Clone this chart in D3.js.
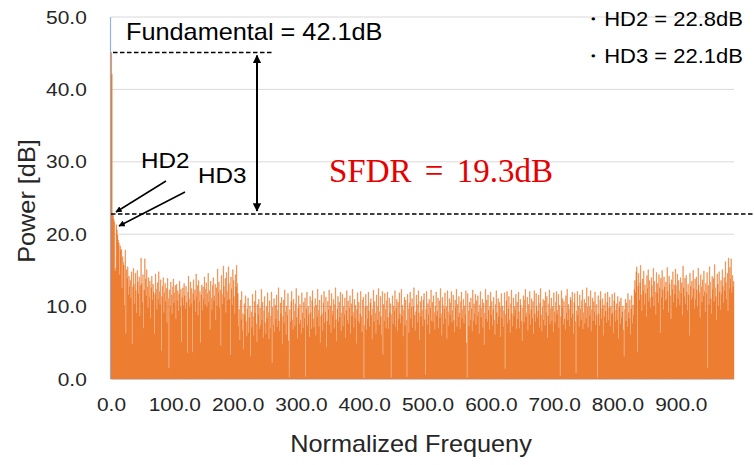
<!DOCTYPE html>
<html lang="en">
<head>
<meta charset="UTF-8">
<title>Spectrum</title>
<script src="https://d3js.org/d3.v7.min.js"></script>
<style>
  body { margin: 0; background: #fff; }
  svg text { font-family: "Liberation Sans", Arial, sans-serif; }
</style>
</head>
<body>
<div id="chart"></div>
<script>
// fundamental + harmonics (first bins)
var headBins = [45.1, 42.1, 22.8, 22.6, 22.1, 21.7, 14.9, 15.3, 21.3, 20.6,
  19.9, 19.2, 18.8, 14.4, 18.4, 17.8, 17.9, 12.6, 16.9, 16.1,
  15.7, 10.2, 17.8, 6.3, 15.1, 13.9, 15.5, 11.6, 14.2, 12.8];

// low band noise, bins 30-199
var lowBand = [13.6, 11.2, 14.8, 4.8, 12.7, 15.3, 13.1, 10.4, 14.6, 12.2, 9.1, 15.0, 13.4, 11.8, 14.1, 8.7, 12.9,
  16.7, 13.2, 10.6, 14.4, 7.0, 12.3, 16.6, 13.8, 11.5, 15.1, 12.7, 9.8, 14.0, 11.3, 13.5, 8.4, 12.6,
  14.2, 10.9, 13.1, 12.0, 6.2, 11.7, 14.5, 12.4, 9.6, 13.3, 11.0, 14.8, 12.1, 10.3, 13.7, 3.9, 11.4,
  12.8, 14.0, 9.2, 11.9, 13.2, 10.7, 12.5, 7.8, 13.9, 11.1, 1.5, 12.3, 10.1, 13.4, 11.6, 9.0, 12.7,
  13.8, 10.5, 11.9, 12.9, 8.3, 13.1, 10.8, 12.2, 9.4, 11.7, 13.5, 10.0, 12.4, 5.1, 11.3, 12.6, 10.2,
  13.2, 11.5, 9.7, 12.8, 10.6, 3.6, 12.0, 14.2, 11.1, 9.9, 13.4, 10.4, 12.5, 3.7, 11.8, 13.7, 10.9,
  12.3, 9.3, 14.5, 11.4, 12.9, 8.8, 13.6, 10.7, 12.1, 5.0, 11.6, 13.0, 9.5, 12.7, 11.0, 14.1, 10.3,
  12.4, 13.3, 9.9, 11.8, 14.6, 10.6, 12.2, 6.8, 13.5, 11.2, 9.6, 12.9, 14.0, 10.8, 11.5, 13.1, 8.1,
  12.6, 10.1, 15.2, 11.9, 13.4, 9.8, 12.3, 4.6, 14.3, 11.7, 10.4, 15.6, 12.8, 11.3, 13.9, 9.2, 14.7,
  12.1, 10.9, 15.5, 13.2, 11.0, 3.3, 14.1, 12.5, 10.2, 15.1, 13.6, 11.4, 9.0, 14.4, 12.7, 15.7, 13.2];

// mid band noise, bins 200-829
var midBand = [11.8, 7.3, 9.6, 5.4, 10.9, 8.2, 12.1, 6.7, 9.0, 4.1, 10.4, 8.8, 11.5, 7.9, 5.9, 9.7, 11.2, 6.4, 8.5, 10.1, 3.2,
  9.3, 7.1, 11.7, 8.6, 6.0, 10.7, 9.1, 12.2, 7.6, 5.1, 10.3, 8.9, 11.0, 6.9, 9.8, 7.4, 12.4, 8.1, 10.6, 5.7, 9.4,
  11.4, 7.8, 6.2, 10.0, 8.4, 11.9, 9.2, 5.5, 10.8, 7.0, 8.7, 12.0, 2.2, 9.9, 7.5, 11.1, 6.5, 10.2, 8.3, 11.6, 7.2,
  9.5, 12.6, 8.0, 6.6, 10.5, 9.0, 11.3, 4.8, 8.6, 10.9, 7.7, 12.3, 9.3, 6.1, 10.1, 8.8, 11.8, 5.3, 0.2, 9.6, 7.9,
  10.7, 12.1, 8.2, 6.8, 11.0, 9.4, 7.3, 10.4, 12.5, 8.5, 5.6, 9.8, 11.5, 7.6, 10.3, 8.1, 6.3, 11.9, 9.1, 7.0, 10.6,
  8.4, 11.2, 0.3, 9.7, 12.0, 7.4, 10.0, 8.9, 5.8, 11.4, 9.2, 6.9, 10.8, 12.2, 8.3, 7.1, 9.9, 11.1, 6.0, 10.2, 8.6,
  12.4, 9.5, 7.2, 10.9, 5.0, 8.7, 11.6, 9.0, 6.7, 10.5, 12.1, 7.8, 9.3, 11.3, 4.4, 8.0, 10.7, 9.6, 12.3, 7.5, 10.1,
  6.4, 11.8, 8.8, 9.4, 11.0, 7.0, 10.3, 12.6, 8.2, 5.2, 9.7, 11.4, 7.9, 10.6, 8.5, 12.0, 6.6, 9.1, 11.7, 7.3, 10.0,
  8.9, 11.2, 5.7, 9.5, 12.2, 8.1, 10.8, 7.6, 9.8, 11.5, 6.2, 10.4, 8.7, 12.4, 9.2, 7.1, 11.0, 8.4, 10.2, 4.9, 9.6,
  11.9, 8.0, 10.6, 7.7, 9.0, 12.1, 8.6, 6.5, 10.9, 11.3, 0.1, 7.4, 9.9, 11.7, 6.8, 10.1, 8.3, 12.0, 9.4, 7.2, 10.5,
  11.1, 8.8, 5.5, 9.7, 12.3, 7.9, 10.7, 9.1, 6.3, 11.6, 8.2, 10.0, 12.5, 7.5, 9.3, 11.4, 8.6, 6.1, 12.1, 3.4, 10.3,
  8.0, 11.8, 9.6, 7.0, 10.8, 12.0, 8.5, 6.9, 11.2, 9.2, 10.4, 0.2, 8.9, 11.5, 7.6, 10.1, 9.4, 12.2, 7.2, 9.8, 11.0,
  6.6, 10.6, 8.3, 11.9, 9.0, 7.7, 12.4, 8.7, 10.2, 5.9, 9.5, 11.3, 7.4, 10.9, 8.1, 0.3, 11.7, 9.7, 6.4, 10.5, 12.0,
  8.4, 9.9, 11.1, 7.1, 10.0, 12.6, 8.8, 6.7, 9.3, 11.6, 10.3, 7.8, 12.2, 9.1, 5.4, 10.7, 8.6, 11.4, 9.5, 7.3, 10.9,
  11.8, 8.2, 0.6, 9.6, 12.1, 7.5, 10.4, 8.9, 11.0, 6.2, 9.8, 12.3, 8.0, 10.6, 7.9, 11.5, 9.2, 6.8, 10.1, 12.0, 8.7,
  9.4, 11.2, 7.0, 10.8, 8.5, 12.5, 9.0, 6.0, 11.3, 10.2, 7.6, 9.7, 11.9, 8.3, 10.0, 5.6, 12.2, 9.3, 7.4, 11.1, 8.8,
  10.5, 12.1, 7.8, 9.5, 11.6, 8.1, 6.5, 10.9, 9.9, 12.4, 7.2, 10.3, 8.6, 11.4, 9.1, 6.9, 10.7, 12.0, 8.4, 9.6, 11.0,
  7.7, 10.1, 8.9, 12.2, 5.0, 0.2, 11.8, 9.4, 7.3, 10.6, 8.2, 11.2, 9.7, 6.6, 12.3, 8.0, 10.4, 9.0, 11.7, 7.5, 10.8,
  8.7, 11.5, 9.3, 6.3, 10.2, 12.1, 8.5, 9.8, 11.0, 7.1, 10.5, 4.7, 9.1, 12.4, 8.3, 10.9, 7.9, 11.6, 9.5, 6.8, 10.0,
  12.0, 8.8, 10.7, 7.4, 9.6, 11.3, 8.1, 6.1, 10.3, 12.2, 9.2, 7.6, 11.1, 8.6, 10.6, 9.9, 5.8, 11.8, 8.4, 10.1, 7.2,
  9.4, 11.9, 1.4, 8.9, 10.8, 12.1, 7.7, 9.7, 11.4, 8.2, 6.4, 10.4, 12.3, 9.0, 7.3, 11.2, 8.7, 10.0, 9.5, 11.7, 6.9,
  10.6, 8.3, 12.0, 9.3, 7.0, 11.0, 10.2, 8.0, 5.3, 9.8, 11.5, 7.8, 10.9, 12.4, 8.6, 9.1, 11.3, 6.7, 10.3, 8.9, 12.1,
  7.5, 9.6, 11.1, 8.4, 10.7, 6.2, 12.2, 9.0, 7.9, 11.8, 10.1, 8.5, 9.4, 11.6, 7.1, 10.5, 12.5, 8.8, 6.6, 9.9, 11.0,
  8.2, 10.8, 7.4, 12.0, 9.2, 11.4, 5.7, 8.7, 10.4, 12.3, 7.6, 9.7, 11.2, 8.0, 10.0, 6.5, 11.9, 9.3, 7.8, 10.6, 12.1,
  8.9, 9.5, 11.7, 7.0, 10.2, 0.4, 8.6, 12.2, 9.8, 11.1, 7.5, 10.7, 8.3, 6.8, 11.5, 9.1, 12.4, 8.1, 10.3, 9.6, 7.3,
  11.3, 10.9, 8.5, 12.0, 9.0, 6.3, 10.6, 11.8, 7.9, 0.8, 9.4, 12.1, 8.8, 10.1, 7.2, 11.6, 9.7, 8.2, 10.8, 12.3, 6.9,
  9.2, 11.0, 7.7, 10.5, 8.4, 12.6, 9.9, 7.1, 11.4, 10.0, 8.7, 12.2, 6.6, 9.6, 11.2, 8.0, 10.7, 9.3, 12.0, 7.5, 10.3,
  8.8, 0.2, 11.5, 9.0, 7.4, 10.9, 12.1, 8.3, 9.7, 11.1, 6.0, 10.2, 8.6, 11.8, 9.4, 7.8, 10.6, 12.0, 8.1, 9.8, 11.3,
  7.3, 10.0, 8.9, 11.7, 9.1, 6.4, 10.8, 11.9, 7.9, 9.5, 10.4, 8.2, 11.4, 5.6, 9.9, 10.7, 7.6, 11.2, 8.5, 9.3, 10.1,
  6.8, 3.1, 9.6, 11.0, 8.0, 10.5, 7.2, 11.8, 9.2, 8.4, 10.9, 6.1, 9.7, 11.5, 7.7, 10.2, 8.8, 12.4, 13.6, 11.9, 14.8];

// high band noise, bins 830-983
var highBand = [15.5, 3.7, 12.8, 14.6, 10.9, 13.3, 15.7, 11.6, 9.4, 13.8, 12.2, 14.9, 10.3, 13.0, 11.8, 8.6, 14.3, 12.5, 15.1, 10.7, 13.6, 11.2,
  9.8, 14.0, 12.9, 11.4, 15.3, 10.1, 13.5, 12.0, 8.9, 14.7, 11.9, 13.2, 10.5, 14.4, 12.6, 6.4, 13.9, 11.3, 15.0, 12.3, 9.6, 14.1,
  12.7, 10.8, 13.4, 11.0, 15.4, 12.1, 9.2, 14.2, 13.1, 11.5, 8.3, 13.7, 12.4, 14.8, 10.6, 13.0, 11.7, 15.2, 12.9, 9.9, 14.5, 11.1,
  13.6, 12.2, 10.2, 14.0, 11.8, 13.3, 8.8, 15.6, 12.6, 11.4, 13.9, 10.4, 14.3, 12.0, 9.5, 13.1, 11.6, 6.0, 14.6, 12.8, 10.9, 13.5,
  11.3, 15.0, 12.5, 9.7, 13.8, 11.0, 14.1, 12.3, 10.0, 15.3, 13.0, 11.9, 8.5, 14.4, 12.7, 10.6, 13.7, 11.5, 14.9, 12.1, 9.3, 13.2,
  11.8, 14.7, 1.5, 12.9, 10.3, 15.5, 13.4, 11.1, 9.0, 14.2, 12.4, 13.9, 10.7, 15.8, 12.6, 11.4, 8.2, 14.5, 13.1, 10.1, 14.8, 12.0,
  9.6, 13.6, 11.7, 15.1, 12.8, 10.5, 14.0, 12.2, 16.2, 13.3, 11.0, 14.6, 9.4, 16.7, 12.5, 15.4, 13.8, 16.6, 11.9, 14.3, 12.7, 13.5];

var power = headBins.concat(lowBand, midBand, highBand);

var yTicks = [0, 10, 20, 30, 40, 50];
var xTicks = [0, 100, 200, 300, 400, 500, 600, 700, 800, 900];
var hd2 = 22.8, hd3 = 22.1, fundamental = 42.1, sfdr = 19.3;

var margin = {top: 17, right: 20, bottom: 86, left: 111},
    width = 754 - margin.left - margin.right,
    height = 465 - margin.top - margin.bottom;
var sx = 1.1; // the reference font runs a bit wider than Arial

var root = d3.select("#chart").append("svg")
    .attr("width", 754)
    .attr("height", 465);

root.append("defs").append("marker")
    .attr("id", "head")
    .attr("viewBox", "0 0 10 10")
    .attr("refX", 9).attr("refY", 5)
    .attr("markerWidth", 4.2).attr("markerHeight", 4.2)
    .attr("markerUnits", "strokeWidth")
    .attr("orient", "auto-start-reverse")
  .append("path")
    .attr("d", "M0,0L10,5L0,10Z")
    .attr("fill", "#000");

var svg = root.append("g")
    .attr("transform", "translate(" + margin.left + "," + margin.top + ")");

var x = d3.scaleBand()
    .domain(d3.range(power.length))
    .range([0, width])
    .padding(0);

var y = d3.scaleLinear()
    .domain([0, 50])
    .range([height, 0]);

// gridlines
svg.append("g")
  .selectAll("line")
  .data(yTicks.slice(1))
  .join("line")
    .attr("x1", 0).attr("x2", width)
    .attr("y1", function(d) { return y(d); })
    .attr("y2", function(d) { return y(d); })
    .attr("stroke", "#d9d9d9")
    .attr("stroke-width", 1);

// axis lines sit under the bars
svg.append("line")
    .attr("x1", -0.5).attr("x2", -0.5).attr("y1", 0).attr("y2", height)
    .attr("stroke", "#8fb4de").attr("stroke-width", 1.2);
svg.append("line")
    .attr("x1", 0).attr("x2", width).attr("y1", height).attr("y2", height)
    .attr("stroke", "#8fb4de").attr("stroke-width", 1.2);

// bars, drawn as one stepped shape so neighbours don't leave seams
var steps = [];
power.forEach(function(d, i) {
  steps.push([x(i), d]);
  steps.push([x(i) + x.bandwidth(), d]);
});
svg.append("path")
    .datum(steps)
    .attr("fill", "#ED7D31")
    .attr("stroke", "#ED7D31")
    .attr("stroke-width", 0.35)
    .attr("d", d3.area()
      .x(function(p) { return p[0]; })
      .y0(height)
      .y1(function(p) { return y(p[1]); }));

// axes
var yAxis = svg.append("g")
    .call(d3.axisLeft(y).tickValues(yTicks).tickFormat(d3.format(".1f")).tickSize(0).tickPadding(22));
var xAxis = svg.append("g")
    .attr("transform", "translate(0," + height + ")")
    .call(d3.axisBottom(x).tickValues(xTicks).tickFormat(d3.format(".1f")).tickSize(0).tickPadding(19));
[yAxis, xAxis].forEach(function(a) {
  a.select(".domain").remove();
  a.selectAll("text")
    .attr("transform", "scale(" + sx + ",1)")
    .style("font-size", "19px")
    .attr("fill", "#262626");
});

// text helper: stretched a little along its own direction
function label(px, py, str, size, opts) {
  opts = opts || {};
  var t = root.append("text")
      .attr("transform", "translate(" + px + "," + py + ")" + (opts.rotate ? " rotate(" + opts.rotate + ")" : "") + " scale(" + (opts.sx || sx) + ",1)")
      .attr("text-anchor", opts.anchor || "start")
      .style("font-size", size + "px")
      .attr("fill", opts.fill || "#000")
      .text(str);
  if (opts.family) t.style("font-family", opts.family);
  return t;
}

label(411, 452, "Normalized Frequeny", 23, {anchor: "middle", fill: "#262626"});
label(35, 201, "Power [dB]", 23, {anchor: "middle", rotate: -90, fill: "#262626"});

// annotation levels
var topLevel = margin.top + y(d3.max(power));
var hdLevel = margin.top + y(hd2);

root.append("line")
    .attr("x1", 113).attr("x2", 273).attr("y1", topLevel).attr("y2", topLevel)
    .attr("stroke", "#000").attr("stroke-width", 1.5).attr("stroke-dasharray", "4.5,2.5");
root.append("line")
    .attr("x1", margin.left).attr("x2", 754).attr("y1", hdLevel).attr("y2", hdLevel)
    .attr("stroke", "#000").attr("stroke-width", 1.6).attr("stroke-dasharray", "4.5,2.5");

root.append("line")
    .attr("x1", 257).attr("x2", 257).attr("y1", topLevel + 3).attr("y2", hdLevel - 3)
    .attr("stroke", "#000").attr("stroke-width", 2)
    .attr("marker-start", "url(#head)").attr("marker-end", "url(#head)");

root.append("line")
    .attr("x1", 166).attr("y1", 181).attr("x2", 116).attr("y2", 212)
    .attr("stroke", "#000").attr("stroke-width", 1.5)
    .attr("marker-end", "url(#head)");
root.append("line")
    .attr("x1", 185).attr("y1", 192).attr("x2", 119).attr("y2", 226)
    .attr("stroke", "#000").attr("stroke-width", 1.5)
    .attr("marker-end", "url(#head)");

label(126, 40, "Fundamental = " + fundamental.toFixed(1) + "dB", 23);
label(141, 168, "HD2", 22);
label(198, 183, "HD3", 22);
label(743, 26, "・HD2 = " + hd2.toFixed(1) + "dB", 20, {anchor: "end"});
label(743, 63, "・HD3 = " + hd3.toFixed(1) + "dB", 20, {anchor: "end"});

label(329, 182, "SFDR = " + sfdr.toFixed(1) + "dB", 33, {family: "'Liberation Serif', 'DejaVu Serif', serif", fill: "#e60000", sx: 1.0})
    .style("word-spacing", "5px");
</script>
</body>
</html>
